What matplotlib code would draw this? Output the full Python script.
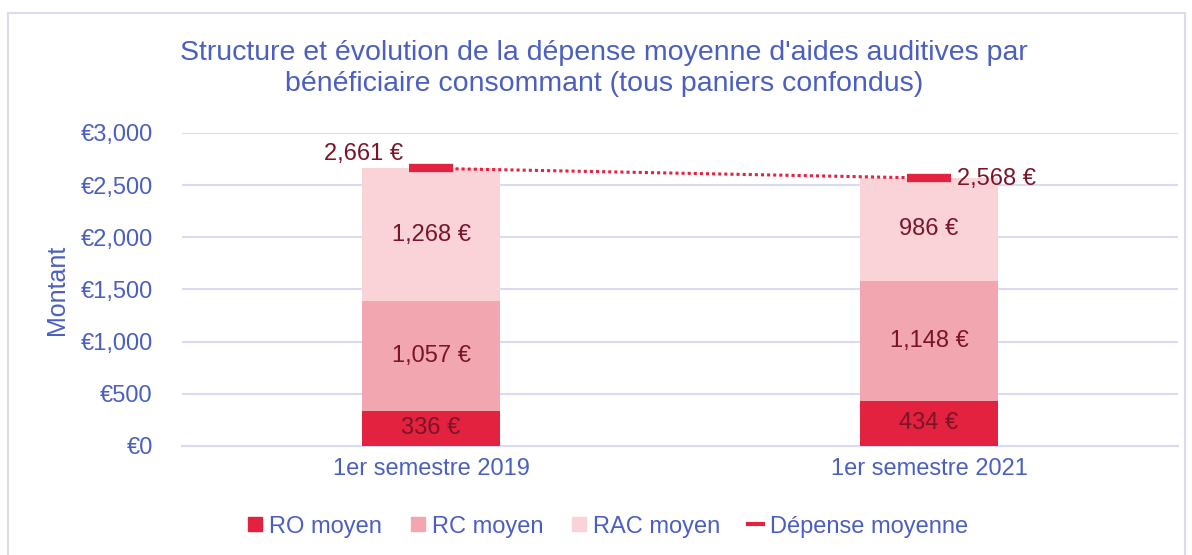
import matplotlib.pyplot as plt
from matplotlib.patches import Rectangle
from matplotlib.lines import Line2D
from matplotlib.ticker import FuncFormatter

periods = ["1er semestre 2019", "1er semestre 2021"]
ro = [336, 434]
rc = [1057, 1148]
rac = [1268, 986]
total = [2661, 2568]

BLUE = "#4A5FC1"
LABEL = "#7A1428"
RO_C = "#E3223F"
RC_C = "#F2A6B0"
RAC_C = "#F9D3D8"
GRID = "#D9DCF0"
FS = 17

plt.rcParams['font.family'] = ['Liberation Sans', 'DejaVu Sans']

fig = plt.figure(figsize=(11.92, 5.55), dpi=100)
ax = fig.add_axes([0.1527, 0.1964, 0.8356, 0.564])

# chart frame
fig.patches.append(Rectangle((8 / 1192, -0.05), 1177 / 1192, 1.05 - 13 / 555,
                             transform=fig.transFigure, fill=False,
                             edgecolor=GRID, linewidth=1.5))

x = list(range(len(periods)))
w = 0.277
bottom2 = [a + b for a, b in zip(ro, rc)]
ax.bar(x, ro, w, color=RO_C, zorder=3)
ax.bar(x, rc, w, bottom=ro, color=RC_C, zorder=3)
ax.bar(x, rac, w, bottom=bottom2, color=RAC_C, zorder=3)

for i in x:
    ax.text(i, ro[i] / 2, f"{ro[i]:,} €", ha="center", va="center",
            color=LABEL, fontsize=FS, zorder=5)
    ax.text(i, ro[i] + rc[i] / 2, f"{rc[i]:,} €", ha="center", va="center",
            color=LABEL, fontsize=FS, zorder=5)
    ax.text(i, bottom2[i] + rac[i] / 2, f"{rac[i]:,} €", ha="center", va="center",
            color=LABEL, fontsize=FS, zorder=5)

ax.plot(x, total, linestyle=(0, (1, 1)), color=RO_C, linewidth=2.2, zorder=4)
ax.plot(x, total, linestyle="none", marker="_", markersize=32,
        markeredgewidth=6, color=RO_C, zorder=4)
ax.annotate(f"{total[0]:,} €", (x[0], total[0]), xytext=(-20, 10),
            textcoords="offset points", ha="right", va="center",
            color=LABEL, fontsize=FS, zorder=5)
ax.annotate(f"{total[1]:,} €", (x[1], total[1]), xytext=(20, -1),
            textcoords="offset points", ha="left", va="center",
            color=LABEL, fontsize=FS, zorder=5)

ax.set_xlim(-0.5, 1.5)
ax.set_ylim(0, 3000)
ax.set_yticks(range(0, 3001, 500))
ax.yaxis.set_major_formatter(FuncFormatter(lambda v, p: f"€{int(v):,}"))
ax.set_xticks(x)
ax.set_xticklabels(periods)
ax.tick_params(axis="both", colors=BLUE, labelsize=FS, length=0)
ax.tick_params(axis="x", pad=9)
ax.tick_params(axis="y", pad=21)
ax.grid(axis="y", color=GRID, linewidth=1.5, zorder=0)
ax.set_axisbelow(True)
for s in ["top", "right", "left"]:
    ax.spines[s].set_visible(False)
ax.spines["bottom"].set_color(GRID)
ax.spines["bottom"].set_linewidth(1.5)

ax.set_ylabel("Montant", color=BLUE, fontsize=18, labelpad=8)

fig.text(0.507, 0.877, "Structure et évolution de la dépense moyenne d'aides auditives par\n"
         "bénéficiaire consommant (tous paniers confondus)",
         ha="center", va="center", color=BLUE, fontsize=20.5, linespacing=1.25)

handles = [
    Line2D([], [], marker="s", linestyle="none", color=RO_C, markersize=10),
    Line2D([], [], marker="s", linestyle="none", color=RC_C, markersize=10),
    Line2D([], [], marker="s", linestyle="none", color=RAC_C, markersize=10),
    Line2D([], [], color=RO_C, linewidth=3),
]
fig.legend(handles, ["RO moyen", "RC moyen", "RAC moyen", "Dépense moyenne"],
           loc="center", bbox_to_anchor=(0.51, 0.051), ncol=4, frameon=False,
           fontsize=FS, labelcolor=BLUE, handlelength=0.6, handletextpad=0.3,
           columnspacing=1.2)

fig.savefig("out.png", dpi=100)
